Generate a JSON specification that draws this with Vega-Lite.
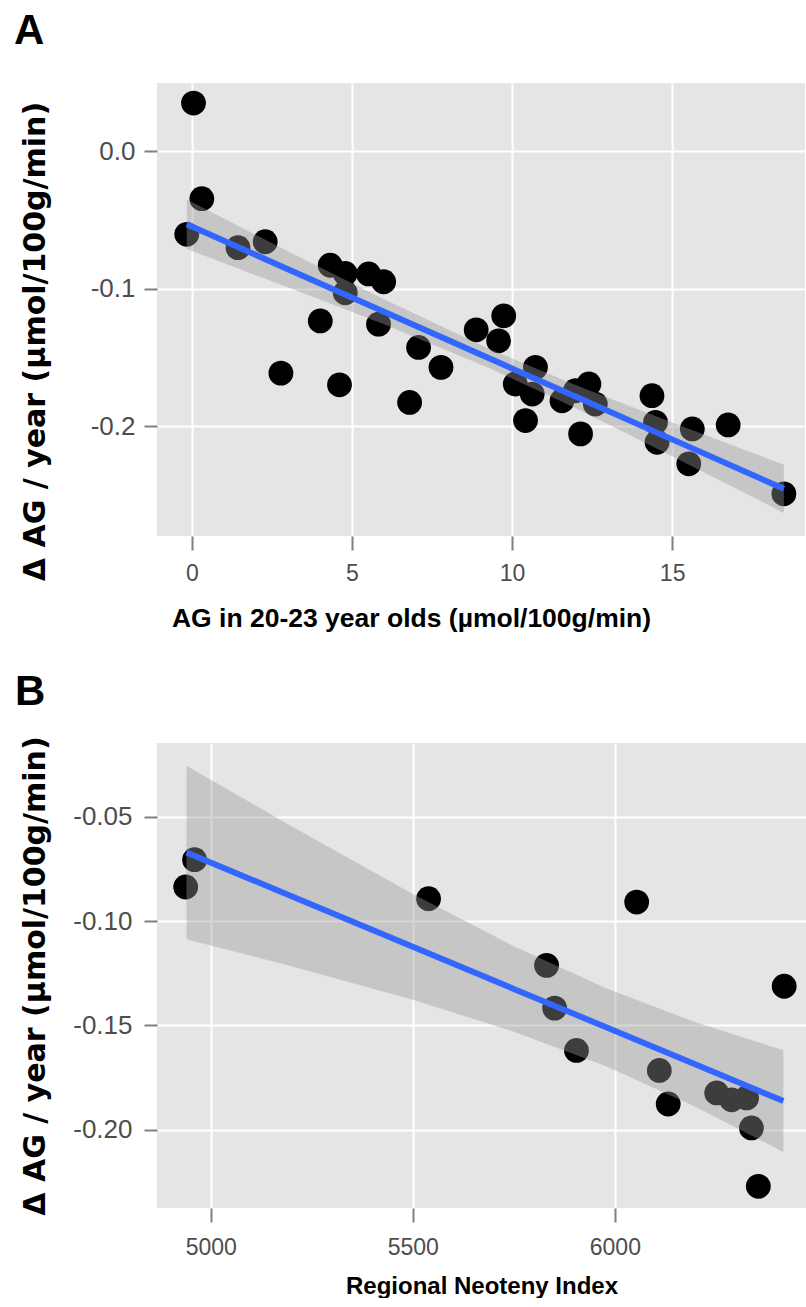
{
  "$schema": "https://vega.github.io/schema/vega-lite/v6.json",
  "background": "white",
  "padding": {"left": 13, "top": 10, "right": 0, "bottom": 0},
  "spacing": 38,
  "config": {
    "locale": {"number": {"decimal": ".", "thousands": ",", "grouping": [3], "currency": ["$", ""], "minus": "-"}},
    "view": {"fill": "#E5E5E5", "stroke": null},
    "axis": {
      "domain": false, "grid": true, "gridColor": "#FFFFFF", "gridWidth": 2,
      "tickColor": "#7F7F7F", "tickWidth": 2, "tickSize": 13,
      "labelColor": "#4D4D4D", "labelFont": "Liberation Sans", "labelFontSize": 26,
      "titleColor": "#000000", "titleFont": "Liberation Sans", "titleFontWeight": "bold", "titleFontSize": 26.5
    },
    "title": {"font": "Liberation Sans", "fontWeight": "bold", "fontSize": 42, "color": "#000000", "anchor": "start", "frame": "bounds", "offset": 30}
  },
  "datasets": {
    "ptsA": [
      {"x": 0.05, "y": 0.035}, {"x": 0.31, "y": -0.0346}, {"x": -0.16, "y": -0.0605},
      {"x": 1.44, "y": -0.0702}, {"x": 2.29, "y": -0.0659}, {"x": 4.32, "y": -0.083},
      {"x": 4.79, "y": -0.089}, {"x": 4.79, "y": -0.103}, {"x": 5.52, "y": -0.0893},
      {"x": 5.99, "y": -0.095}, {"x": 4.01, "y": -0.1235}, {"x": 5.83, "y": -0.1259},
      {"x": 7.08, "y": -0.1428}, {"x": 7.78, "y": -0.1573}, {"x": 2.78, "y": -0.1615},
      {"x": 4.61, "y": -0.17}, {"x": 6.8, "y": -0.1828}, {"x": 8.88, "y": -0.13},
      {"x": 9.74, "y": -0.1198}, {"x": 9.58, "y": -0.138}, {"x": 10.73, "y": -0.1573},
      {"x": 10.1, "y": -0.1694}, {"x": 10.63, "y": -0.1767}, {"x": 10.42, "y": -0.196},
      {"x": 12.4, "y": -0.1694}, {"x": 11.98, "y": -0.1743}, {"x": 11.56, "y": -0.1816},
      {"x": 12.6, "y": -0.184}, {"x": 12.14, "y": -0.2057}, {"x": 14.37, "y": -0.1779},
      {"x": 14.48, "y": -0.1973}, {"x": 14.53, "y": -0.2118}, {"x": 15.63, "y": -0.2021},
      {"x": 15.52, "y": -0.2275}, {"x": 16.75, "y": -0.1992}, {"x": 18.49, "y": -0.2493}
    ],
    "fitA": [
      {"x": -0.16, "fit": -0.0532, "lo": -0.0712, "hi": -0.0352},
      {"x": 3, "fit": -0.0859, "lo": -0.099, "hi": -0.0728},
      {"x": 6, "fit": -0.1168, "lo": -0.1259, "hi": -0.1077},
      {"x": 9.3, "fit": -0.1509, "lo": -0.1579, "hi": -0.1439},
      {"x": 12, "fit": -0.1787, "lo": -0.1871, "hi": -0.1703},
      {"x": 15, "fit": -0.2097, "lo": -0.2219, "hi": -0.1975},
      {"x": 18.49, "fit": -0.2457, "lo": -0.2632, "hi": -0.2282}
    ],
    "ptsB": [
      {"x": 4960, "y": -0.0705}, {"x": 4938, "y": -0.0836}, {"x": 5539, "y": -0.0892},
      {"x": 6054, "y": -0.0908}, {"x": 5831, "y": -0.1212}, {"x": 5851, "y": -0.1417},
      {"x": 5905, "y": -0.162}, {"x": 6110, "y": -0.1716}, {"x": 6132, "y": -0.1877},
      {"x": 6419, "y": -0.1312}, {"x": 6252, "y": -0.1824}, {"x": 6289, "y": -0.1857},
      {"x": 6326, "y": -0.1848}, {"x": 6338, "y": -0.1992}, {"x": 6355, "y": -0.2272}
    ],
    "fitB": [
      {"x": 4940, "fit": -0.067, "lo": -0.1086, "hi": -0.0254},
      {"x": 5200, "fit": -0.088, "lo": -0.1216, "hi": -0.0544},
      {"x": 5500, "fit": -0.1123, "lo": -0.1377, "hi": -0.0869},
      {"x": 5750, "fit": -0.1325, "lo": -0.153, "hi": -0.112},
      {"x": 5980, "fit": -0.151, "lo": -0.1697, "hi": -0.1323},
      {"x": 6200, "fit": -0.1688, "lo": -0.1891, "hi": -0.1485},
      {"x": 6417, "fit": -0.1863, "lo": -0.2107, "hi": -0.1619}
    ]
  },
  "vconcat": [
    {
      "width": 648, "height": 453,
      "title": {"text": "A", "dx": -6},
      "resolve": {"axis": {"x": "independent", "y": "independent"}},
      "layer": [
        {
          "data": {"name": "ptsA"},
          "mark": {"type": "circle", "size": 615, "color": "#000000", "opacity": 1},
          "encoding": {
            "x": {"field": "x", "type": "quantitative", "scale": {"domain": [-1.09, 19.15], "nice": false, "zero": false},
              "axis": {"orient": "bottom", "values": [0, 5, 10, 15], "labelFontSize": 23, "labelPadding": 12, "tickSize": 14, "titlePadding": 20, "titleX": 254,
                "title": "AG in 20-23 year olds (µmol/100g/min)"}},
            "y": {"field": "y", "type": "quantitative", "scale": {"domain": [-0.28, 0.0496], "nice": false, "zero": false},
              "axis": {"orient": "left", "values": [-0.2, -0.1, 0.0], "format": ".1f", "labelPadding": 9, "minExtent": 82, "maxExtent": 82, "titlePadding": 25,
                "titleFont": "DejaVu Sans", "titleFontSize": 30, "titleY": 258,
                "title": "Δ AG / year (µmol/100g/min)"}}
          }
        },
        {
          "data": {"name": "fitA"},
          "mark": {"type": "area", "color": "#999999", "opacity": 0.4},
          "encoding": {
            "x": {"field": "x", "type": "quantitative", "scale": {"domain": [-1.09, 19.15], "nice": false, "zero": false},
              "axis": {"orient": "top", "values": [2.5, 7.5, 12.5, 17.5], "gridColor": "#F2F2F2", "gridWidth": 1, "ticks": false, "labels": false, "title": null}},
            "y": {"field": "lo", "type": "quantitative", "scale": {"domain": [-0.28, 0.0496], "nice": false, "zero": false},
              "axis": {"orient": "right", "values": [-0.25, -0.15, -0.05], "gridColor": "#F2F2F2", "gridWidth": 1, "ticks": false, "labels": false, "title": null}},
            "y2": {"field": "hi"}
          }
        },
        {
          "data": {"name": "fitA"},
          "mark": {"type": "line", "color": "#3366FF", "strokeWidth": 6},
          "encoding": {
            "x": {"field": "x", "type": "quantitative", "axis": null},
            "y": {"field": "fit", "type": "quantitative", "axis": null}
          }
        }
      ]
    },
    {
      "width": 649, "height": 465,
      "title": {"text": "B", "dx": -5, "offset": 22},
      "resolve": {"axis": {"x": "independent", "y": "independent"}},
      "layer": [
        {
          "data": {"name": "ptsB"},
          "mark": {"type": "circle", "size": 615, "color": "#000000", "opacity": 1},
          "encoding": {
            "x": {"field": "x", "type": "quantitative", "scale": {"domain": [4867, 6473], "nice": false, "zero": false},
              "axis": {"orient": "bottom", "values": [5000, 5500, 6000], "format": "d", "labelFontSize": 23, "labelPadding": 14, "tickSize": 14, "titlePadding": 15,
                "titleFontSize": 24, "title": "Regional Neoteny Index"}},
            "y": {"field": "y", "type": "quantitative", "scale": {"domain": [-0.2376, -0.0145], "nice": false, "zero": false},
              "axis": {"orient": "left", "values": [-0.2, -0.15, -0.1, -0.05], "format": ".2f", "labelPadding": 12, "minExtent": 82, "maxExtent": 82, "titlePadding": 25,
                "titleFont": "DejaVu Sans", "titleFontSize": 30,
                "title": "Δ AG / year (µmol/100g/min)"}}
          }
        },
        {
          "data": {"name": "fitB"},
          "mark": {"type": "area", "color": "#999999", "opacity": 0.4},
          "encoding": {
            "x": {"field": "x", "type": "quantitative", "scale": {"domain": [4867, 6473], "nice": false, "zero": false},
              "axis": {"orient": "top", "values": [5250, 5750, 6250], "gridColor": "#F2F2F2", "gridWidth": 1, "ticks": false, "labels": false, "title": null}},
            "y": {"field": "lo", "type": "quantitative", "scale": {"domain": [-0.2376, -0.0145], "nice": false, "zero": false},
              "axis": {"orient": "right", "values": [-0.225, -0.175, -0.125, -0.075, -0.025], "gridColor": "#F2F2F2", "gridWidth": 1, "ticks": false, "labels": false, "title": null}},
            "y2": {"field": "hi"}
          }
        },
        {
          "data": {"name": "fitB"},
          "mark": {"type": "line", "color": "#3366FF", "strokeWidth": 6},
          "encoding": {
            "x": {"field": "x", "type": "quantitative", "axis": null},
            "y": {"field": "fit", "type": "quantitative", "axis": null}
          }
        }
      ]
    }
  ]
}
